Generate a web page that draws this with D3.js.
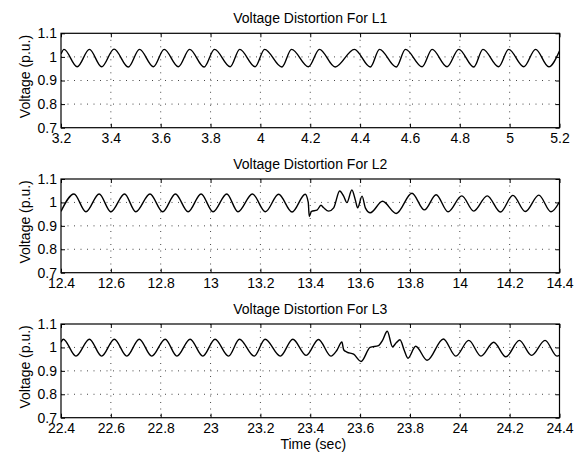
<!DOCTYPE html>
<html>
<head>
<meta charset="utf-8">
<script src="https://cdn.jsdelivr.net/npm/d3@7"></script>
<style>
html,body{margin:0;padding:0;background:#fff;}
svg text{font-family:"Liberation Sans",Arial,Helvetica,sans-serif;fill:#000;}
</style>
</head>
<body>
<svg id="chart" width="585" height="458"></svg>
<script>
// ---- data ----
const titles = ["Voltage Distortion For L1", "Voltage Distortion For L2", "Voltage Distortion For L3"];
const yLabel = "Voltage (p.u.)";
const xLabel = "Time (sec)";
const yTicks = [0.7, 0.8, 0.9, 1, 1.1];
const xTicks1 = [3.2, 3.4, 3.6, 3.8, 4, 4.2, 4.4, 4.6, 4.8, 5, 5.2];
const xTicks2 = [12.4, 12.6, 12.8, 13, 13.2, 13.4, 13.6, 13.8, 14, 14.2, 14.4];
const xTicks3 = [22.4, 22.6, 22.8, 23, 23.2, 23.4, 23.6, 23.8, 24, 24.2, 24.4];

const t1 = [3.200,3.212,3.265,3.314,3.363,3.413,3.470,3.515,3.571,3.614,3.671,3.716,3.774,3.816,3.879,3.917,3.979,4.017,4.086,4.125,4.193,4.237,4.300,4.377,4.441,4.478,4.545,4.582,4.649,4.689,4.749,4.796,4.856,4.893,4.956,4.996,5.057,5.104,5.157,5.200];
const v1 = [1.012,1.032,0.958,1.032,0.958,1.033,0.957,1.032,0.958,1.032,0.958,1.032,0.957,1.032,0.958,1.032,0.958,1.032,0.957,1.032,0.958,1.032,0.957,1.032,0.957,1.032,0.957,1.032,0.958,1.032,0.958,1.032,0.957,1.032,0.958,1.032,0.958,1.032,0.958,1.025];

const t2 = [12.400,12.452,12.500,12.553,12.600,12.655,12.700,12.757,12.808,12.859,12.910,12.962,13.010,13.065,13.110,13.168,13.220,13.273,13.327,13.380,13.392,13.396,13.405,13.427,13.443,13.454,13.474,13.494,13.518,13.534,13.547,13.567,13.581,13.590,13.608,13.621,13.641,13.690,13.745,13.808,13.858,13.905,13.953,14.008,14.056,14.110,14.163,14.213,14.263,14.317,14.366,14.400];
const v2 = [0.962,1.036,0.960,1.036,0.960,1.036,0.960,1.036,0.960,1.036,0.960,1.036,0.960,1.036,0.960,1.036,0.960,1.035,0.959,1.035,1.000,0.940,0.962,0.967,0.988,0.977,0.963,0.977,1.049,1.027,0.999,1.053,1.010,0.977,1.027,0.977,0.956,1.005,0.953,1.039,0.968,1.033,0.960,1.028,0.963,1.028,0.959,1.030,0.961,1.031,0.960,1.003];

const t3 = [22.400,22.409,22.460,22.514,22.563,22.614,22.664,22.714,22.764,22.818,22.865,22.918,22.969,23.018,23.072,23.116,23.175,23.219,23.280,23.330,23.384,23.433,23.483,23.507,23.527,23.534,23.547,23.574,23.604,23.640,23.674,23.690,23.709,23.730,23.745,23.760,23.777,23.792,23.823,23.869,23.934,23.984,24.036,24.085,24.136,24.185,24.239,24.288,24.342,24.390,24.400];
const v3 = [1.022,1.035,0.963,1.035,0.963,1.035,0.963,1.035,0.963,1.035,0.963,1.035,0.963,1.035,0.963,1.035,0.963,1.035,0.963,1.035,0.966,1.034,0.963,0.988,1.023,0.990,0.980,0.971,0.940,1.000,1.008,1.030,1.069,1.003,1.020,1.033,0.988,0.954,1.005,0.945,1.036,0.963,1.030,0.963,1.022,0.960,1.030,0.966,1.030,0.963,0.966];

// ---- layout ----
const svg = d3.select("#chart");
const L = 61, R = 559.5;
const panels = [
  {t: t1, v: v1, ticks: xTicks1, title: titles[0], top: 33.3, bottom: 127.7},
  {t: t2, v: v2, ticks: xTicks2, title: titles[1], top: 179, bottom: 272.7},
  {t: t3, v: v3, ticks: xTicks3, title: titles[2], top: 324, bottom: 417.7}
];
const fmt = d => String(+d.toFixed(1));
const FS = "14px";

panels.forEach((p, i) => {
  const x = d3.scaleLinear().domain([p.ticks[0], p.ticks[p.ticks.length - 1]]).range([L, R]);
  const y = d3.scaleLinear().domain([0.7, 1.1]).range([p.bottom, p.top]);
  const g = svg.append("g");

  // grid
  g.append("g").selectAll("line").data(p.ticks.slice(1, -1)).join("line")
    .attr("x1", d => x(d)).attr("x2", d => x(d))
    .attr("y1", p.top).attr("y2", p.bottom)
    .attr("stroke", "#333").attr("stroke-width", 0.9).attr("stroke-dasharray", "1,5.5");
  g.append("g").selectAll("line").data(yTicks.slice(1, -1)).join("line")
    .attr("y1", d => y(d)).attr("y2", d => y(d))
    .attr("x1", L).attr("x2", R)
    .attr("stroke", "#333").attr("stroke-width", 0.9).attr("stroke-dasharray", "1,5.5");

  // clip
  const cid = "clip" + i;
  svg.append("clipPath").attr("id", cid).append("rect")
    .attr("x", L).attr("y", p.top).attr("width", R - L).attr("height", p.bottom - p.top);

  const pts = p.t.map((t, k) => [t, p.v[k]]);
  const line = d3.line().x(d => x(d[0])).y(d => y(d[1])).curve(d3.curveMonotoneX);
  g.append("path").datum(pts).attr("clip-path", `url(#${cid})`)
    .attr("d", line).attr("fill", "none").attr("stroke", "#000").attr("stroke-width", 1.4)
    .attr("stroke-linejoin", "round");

  // axes
  const ab = g.append("g").attr("transform", `translate(0,${p.bottom})`)
    .call(d3.axisBottom(x).tickValues(p.ticks).tickFormat(fmt).tickSize(-4).tickPadding(5));
  const at = g.append("g").attr("transform", `translate(0,${p.top})`)
    .call(d3.axisTop(x).tickValues(p.ticks).tickFormat("").tickSize(-4));
  const al = g.append("g").attr("transform", `translate(${L},0)`)
    .call(d3.axisLeft(y).tickValues(yTicks).tickFormat(fmt).tickSize(-4).tickPadding(4));
  const ar = g.append("g").attr("transform", `translate(${R},0)`)
    .call(d3.axisRight(y).tickValues(yTicks).tickFormat("").tickSize(-4));
  [ab, at, al, ar].forEach(a => {
    a.select(".domain").remove();
    a.selectAll(".tick line").attr("stroke", "#000");
    a.selectAll("text").attr("font-size", FS).attr("font-family", null).attr("fill", "#000");
  });

  // box
  g.append("rect").attr("x", L).attr("y", p.top).attr("width", R - L).attr("height", p.bottom - p.top)
    .attr("fill", "none").attr("stroke", "#000").attr("stroke-width", 1.2);

  // title
  g.append("text").attr("x", (L + R) / 2).attr("y", p.top - 10.5)
    .attr("text-anchor", "middle").attr("font-size", FS).text(p.title);

  // y label
  g.append("text").attr("transform", `translate(29.5,${(p.top + p.bottom) / 2 - 4}) rotate(-90)`)
    .attr("text-anchor", "middle").attr("font-size", FS).text(yLabel);
});

svg.append("text").attr("x", (L + R) / 2 + 3).attr("y", 449)
  .attr("text-anchor", "middle").attr("font-size", FS).text(xLabel);
</script>
</body>
</html>
